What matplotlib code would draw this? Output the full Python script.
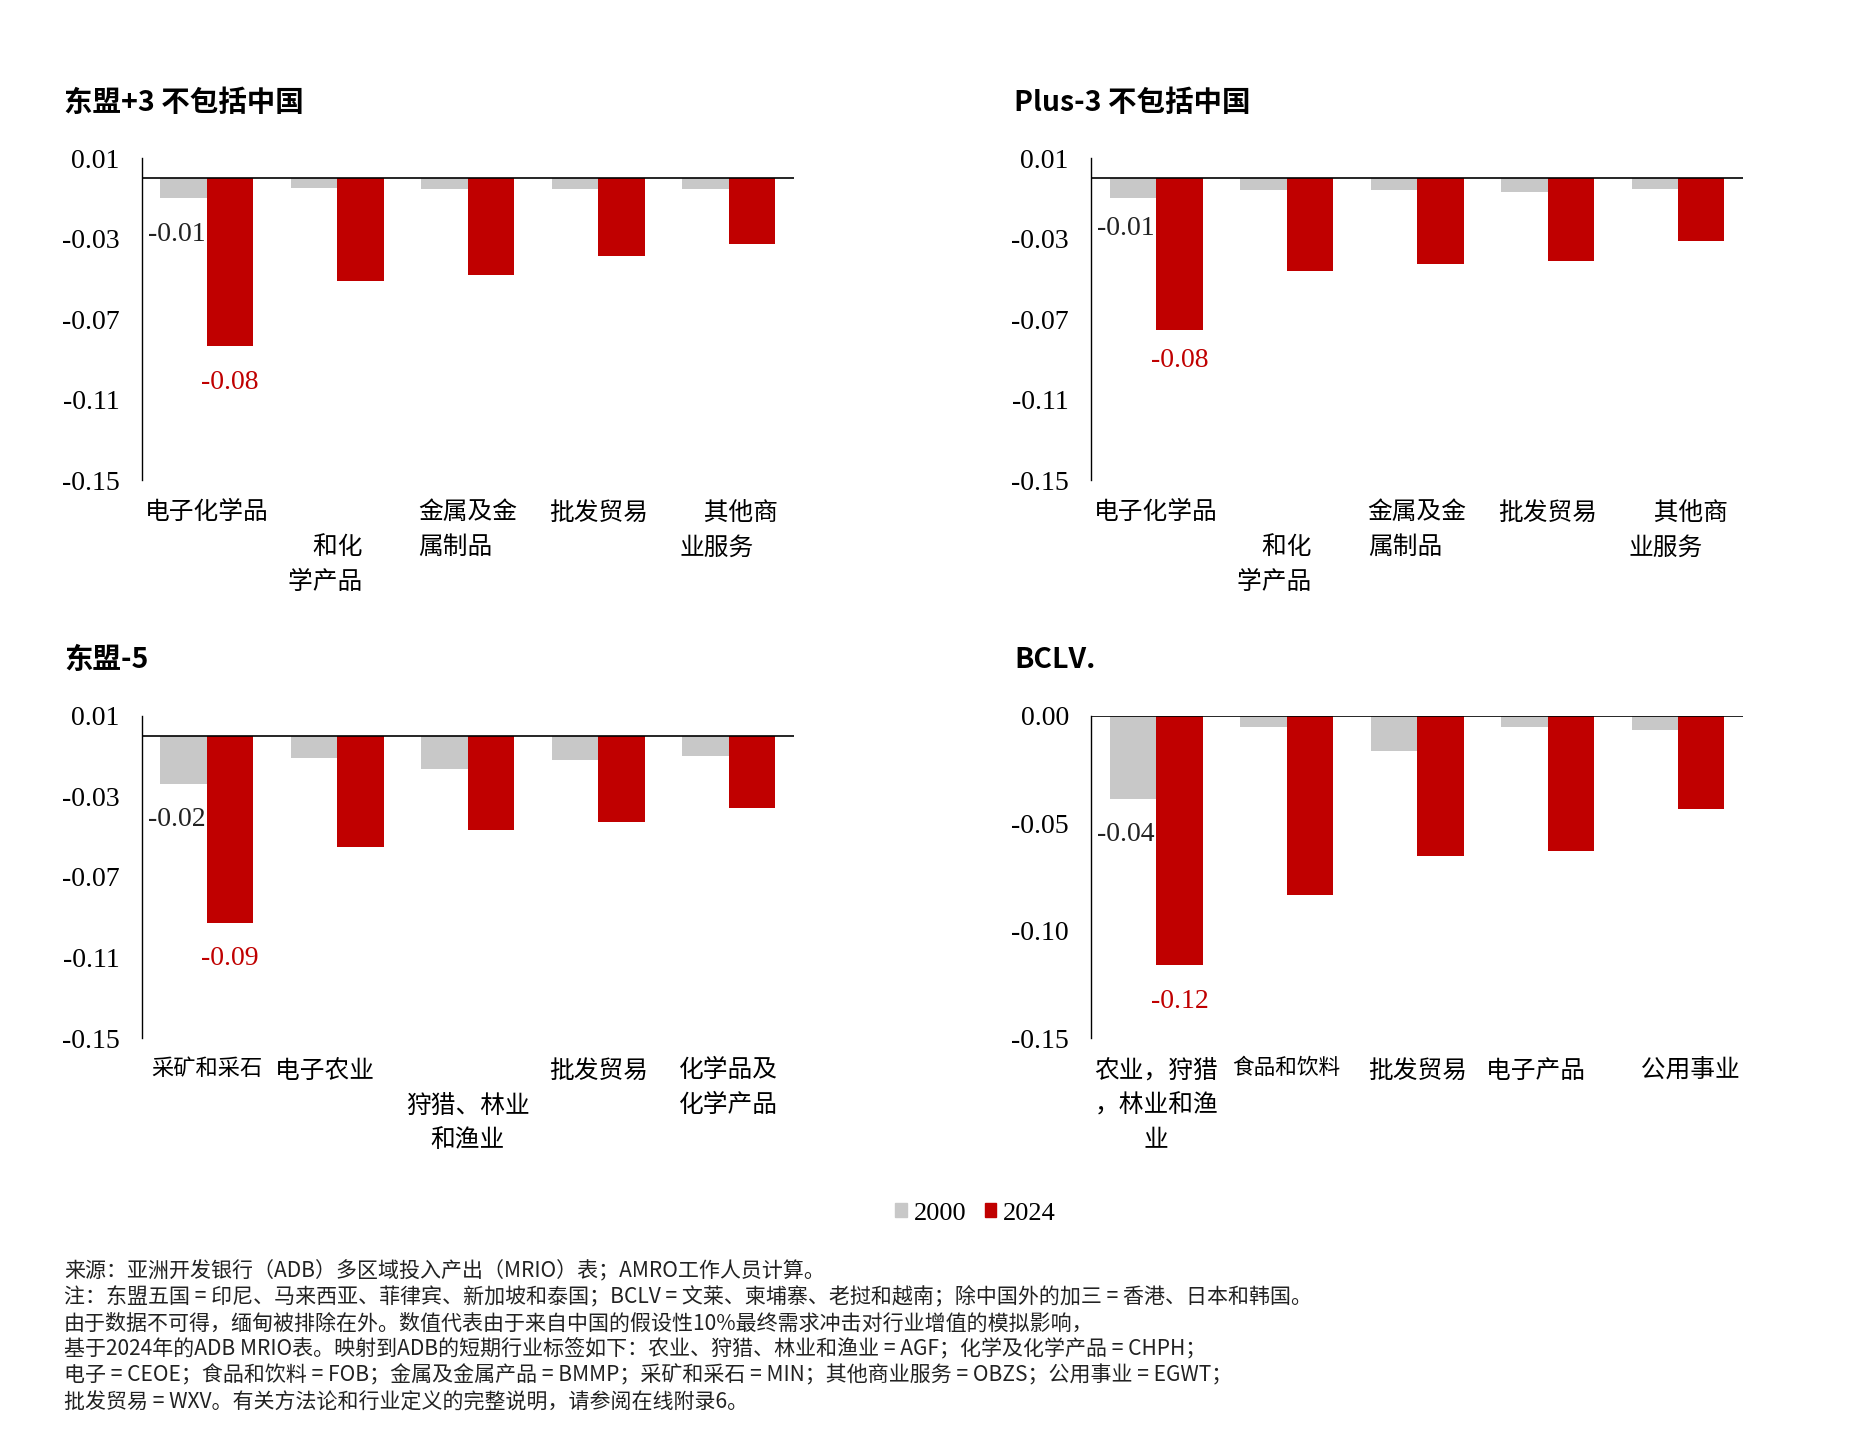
import numpy as np
import matplotlib
matplotlib.use("Agg")
import matplotlib.pyplot as plt
from matplotlib.patches import Patch

CJK = ["Noto Sans CJK SC", "DejaVu Sans"]
SERIF = ["Liberation Serif", "DejaVu Serif"]
GREY = "#c8c8c8"
RED = "#c00000"

# ---- data ----
titles = ["东盟+3 不包括中国", "Plus-3 不包括中国", "东盟-5", "BCLV."]

cats_asean3 = ["电子化学品", "\n和化\u3000\n学产品\u3000", "金属及金\n属制品", "批发贸易", "\u3000其他商\n业服务"]
cats_plus3 = ["电子化学品", "\n和化\u3000\n学产品\u3000", "金属及金\n属制品", "批发贸易", "\u3000其他商\n业服务"]
cats_asean5 = ["采矿和采石", "电子农业\u3000", "\n狩猎、林业\n和渔业", "批发贸易", "化学品及\n化学产品"]
cats_bclv = ["农业，狩猎\n，林业和渔\n业", "食品和饮料", "批发贸易", "电子产品\u3000", "\u3000公用事业"]

v2000_asean3 = [-0.0098, -0.0050, -0.0055, -0.0055, -0.0055]
v2024_asean3 = [-0.0835, -0.0510, -0.0480, -0.0387, -0.0328]
v2000_plus3 = [-0.0098, -0.0060, -0.0060, -0.0068, -0.0053]
v2024_plus3 = [-0.0753, -0.0463, -0.0428, -0.0410, -0.0310]
v2000_asean5 = [-0.0236, -0.0107, -0.0166, -0.0119, -0.0101]
v2024_asean5 = [-0.0927, -0.0550, -0.0467, -0.0426, -0.0355]
v2000_bclv = [-0.0385, -0.0053, -0.0163, -0.0053, -0.0064]
v2024_bclv = [-0.1160, -0.0833, -0.0650, -0.0630, -0.0434]

ticks_a = [0.01, -0.03, -0.07, -0.11, -0.15]
ticks_b = [0.00, -0.05, -0.10, -0.15]

series_names = ["2000", "2024"]

notes = [
    "来源：亚洲开发银行（ADB）多区域投入产出（MRIO）表；AMRO工作人员计算。",
    "注：东盟五国 = 印尼、马来西亚、菲律宾、新加坡和泰国；BCLV = 文莱、柬埔寨、老挝和越南；除中国外的加三 = 香港、日本和韩国。",
    "由于数据不可得，缅甸被排除在外。数值代表由于来自中国的假设性10%最终需求冲击对行业增值的模拟影响，",
    "基于2024年的ADB MRIO表。映射到ADB的短期行业标签如下：农业、狩猎、林业和渔业 = AGF；化学及化学产品 = CHPH；",
    "电子 = CEOE；食品和饮料 = FOB；金属及金属产品 = BMMP；采矿和采石 = MIN；其他商业服务 = OBZS；公用事业 = EGWT；",
    "批发贸易 = WXV。有关方法论和行业定义的完整说明，请参阅在线附录6。",
]

panels = [
    (titles[0], cats_asean3, v2000_asean3, v2024_asean3, ticks_a),
    (titles[1], cats_plus3, v2000_plus3, v2024_plus3, ticks_a),
    (titles[2], cats_asean5, v2000_asean5, v2024_asean5, ticks_a),
    (titles[3], cats_bclv, v2000_bclv, v2024_bclv, ticks_b),
]

# ---- layout ----
W, H = 1865, 1429
fig = plt.figure(figsize=(W / 100, H / 100), dpi=100)
fig.patch.set_facecolor("white")

ax_boxes = [  # left, bottom, width, height in figure fraction
    (0.0759, 0.6641, 0.3498, 0.2253),
    (0.5850, 0.6641, 0.3498, 0.2253),
    (0.0759, 0.2736, 0.3498, 0.2254),
    (0.5850, 0.2736, 0.3498, 0.2254),
]
title_pos = [(0.0343, 0.928), (0.5438, 0.928), (0.0343, 0.538), (0.5438, 0.538)]
label_align = [
    ["center", "right", "left", "center", "left"],
    ["center", "right", "left", "center", "left"],
    ["center", "center", "center", "center", "center"],
    ["center", "center", "center", "center", "center"],
]
label_size = [
    [17.8] * 5,
    [17.8] * 5,
    [16.0, 17.8, 17.8, 17.8, 17.8],
    [17.8, 15.6, 17.8, 17.8, 17.8],
]
label_off = [-26, -22, -26, -26]

w = 0.355
for k, (title, cats, a, b, yt) in enumerate(panels):
    ax = fig.add_axes(ax_boxes[k])
    x = np.arange(len(cats))
    bg = ax.bar(x - w / 2, a, w, color=GREY, zorder=2)
    br = ax.bar(x + w / 2, b, w, color=RED, zorder=2)
    ax.axhline(0, color="black", lw=1.2, zorder=3)
    ax.set_xlim(-0.5, len(cats) - 0.5)
    ax.set_ylim(-0.15, yt[0])
    ax.set_yticks(yt)
    ax.set_yticklabels([f"{t:.2f}" for t in yt], fontfamily=SERIF, fontsize=20)
    ax.set_xticks(x)
    ax.set_xticklabels(cats, fontfamily=CJK, va="top", linespacing=1.45)
    for lab, ma, fs in zip(ax.get_xticklabels(), label_align[k], label_size[k]):
        lab.set_multialignment(ma)
        lab.set_fontsize(fs)
    ax.tick_params(axis="both", length=0)
    ax.tick_params(axis="y", pad=16)
    ax.tick_params(axis="x", pad=14)
    for s in ("top", "right", "bottom"):
        ax.spines[s].set_visible(False)
    ax.spines["left"].set_linewidth(1.0)
    # labels on the first category only
    r = bg[0]
    ax.annotate(f"{r.get_height():.2f}", xy=(r.get_x() + r.get_width(), r.get_height()),
                xytext=(-1, label_off[k]), textcoords="offset points",
                ha="right", va="center", fontsize=20,
                fontfamily=SERIF, color="#222222", zorder=4)
    r = br[0]
    ax.annotate(f"{r.get_height():.2f}", xy=(r.get_x() + r.get_width() / 2, r.get_height()),
                xytext=(0, label_off[k]), textcoords="offset points",
                ha="center", va="center", fontsize=20,
                fontfamily=SERIF, color=RED, zorder=4)
    fig.text(title_pos[k][0], title_pos[k][1], title, fontfamily=CJK,
             fontsize=20.5, fontweight="bold", va="center", ha="left")

handles = [Patch(color=GREY), Patch(color=RED)]
fig.legend(handles, series_names, loc="center", bbox_to_anchor=(0.523, 0.1507),
           ncol=2, frameon=False, handlelength=0.45, handleheight=0.45,
           handletextpad=0.25, columnspacing=0.7, prop={"family": SERIF, "size": 19})

for i, line in enumerate(notes):
    fig.text(0.0343, 1 - (1069 + 22 * i) * 1.189 / H, line, fontfamily=CJK,
             fontsize=15.1, va="center", ha="left", color="#222222")

fig.savefig("out.png", dpi=100, facecolor="white")
